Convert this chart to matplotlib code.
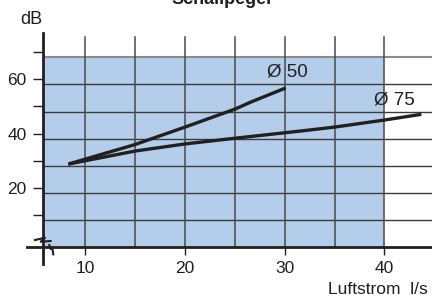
import matplotlib
matplotlib.use("Agg")
import matplotlib.pyplot as plt

plt.rcParams['font.family'] = ['Liberation Sans', 'DejaVu Sans']

# Data
x50 = [8.3, 15, 20, 25, 26.6, 30.1]
y50 = [28.8, 36.0, 42.4, 49.0, 51.6, 56.8]
x75 = [8.3, 15, 20, 25, 31.7, 35, 40, 43.7]
y75 = [28.8, 33.6, 36.2, 38.3, 41.0, 42.4, 45.0, 47.1]
xticks = [10, 20, 30, 40]
yticks_major = [20, 40, 60]
yticks_minor = [10, 30, 50, 70]
xgrid = [10, 15, 20, 25, 30, 35, 40]
ygrid = [8.1, 18.1, 28.1, 38.1, 48.1, 58.1]
title = "Schallpegel"
ylabel = "dB"
xlabel = "Luftstrom  l/s"
labels = ["Ø 50", "Ø 75"]

XMIN, XMAX = 5.73, 44.77
YMIN, YMAX = -1.8, 77.0
BLUE_TOP = 68.2
BLUE_RIGHT = 40.0
GRID_TOP = 75.5
INK = '#231f20'

fig = plt.figure(figsize=(4.32, 2.97), dpi=100)
ax = fig.add_axes([42.7/432, 1-247.3/297, 1-42.7/432, (247.3-33)/297])
ax.set_xlim(XMIN, XMAX)
ax.set_ylim(YMIN, YMAX)
ax.patch.set_alpha(0)

# blue area
ax.axvspan(XMIN, BLUE_RIGHT, ymin=0, ymax=(BLUE_TOP-YMIN)/(YMAX-YMIN),
           color='#b4cdea', lw=0, zorder=0)
# top grey line
ax.axhline(BLUE_TOP, color='#8a8a8a', lw=1.5, zorder=1)
# horizontal grid
for g in ygrid:
    ax.axhline(g, color='#3a3a3a', lw=1.0, zorder=1)
# vertical grid
for g in xgrid:
    ax.plot([g, g], [YMIN, GRID_TOP], color='#4a4a4a', lw=1.1, zorder=1)

# curves
ax.plot(x50, y50, color=INK, lw=2.4, solid_capstyle='butt', zorder=3)
ax.plot(x75, y75, color=INK, lw=2.4, solid_capstyle='butt', zorder=3)
ax.text(30.3, 62.6, labels[0], fontsize=13.5, ha='center', va='center', color=INK)
ax.text(41.0, 52.5, labels[1], fontsize=13.5, ha='center', va='center', color=INK)

for s in ['top', 'right', 'bottom', 'left']:
    ax.spines[s].set_visible(False)
# axis lines drawn extended
ax.plot([XMIN, XMIN], [-7.9, YMAX], color=INK, lw=2.0, clip_on=False, zorder=4)
ax.plot([4.2, XMAX + 1], [YMIN, YMIN], color=INK, lw=2.0, clip_on=False, zorder=4)

# break symbol
ax.plot([4.96, 5.96, 5.53, 6.53], [0.88, 1.73, 0.26, 0.52], color=INK, lw=1.5,
        clip_on=False, zorder=5)
ax.plot([6.39, 6.53, 6.69, 6.79], [-0.95, -2.4, -1.95, -4.4], color=INK, lw=1.5,
        clip_on=False, zorder=5)

# ticks
ax.set_xticks(xticks)
ax.set_yticks(yticks_major)
ax.set_yticks(yticks_minor, minor=True)
ax.tick_params(axis='x', direction='out', length=5.8, width=1.0, pad=4,
               labelsize=12.5, color=INK, labelcolor=INK)
ax.tick_params(axis='y', which='both', direction='out', length=7.5, width=1.0,
               pad=4, labelsize=12.5, color=INK, labelcolor=INK)
ax.tick_params(axis='y', which='minor', labelleft=False)

fig.text(222/432, 1-4/297, title, fontsize=13, fontweight='bold',
         ha='center', va='baseline', color=INK)
fig.text(31/432, 1-20/297, ylabel, fontsize=13, ha='center', va='center',
         color=INK)
fig.text(428/432, 1-289/297, xlabel, fontsize=12.5, ha='right', va='center',
         color=INK)

fig.savefig('out.png', dpi=100)
